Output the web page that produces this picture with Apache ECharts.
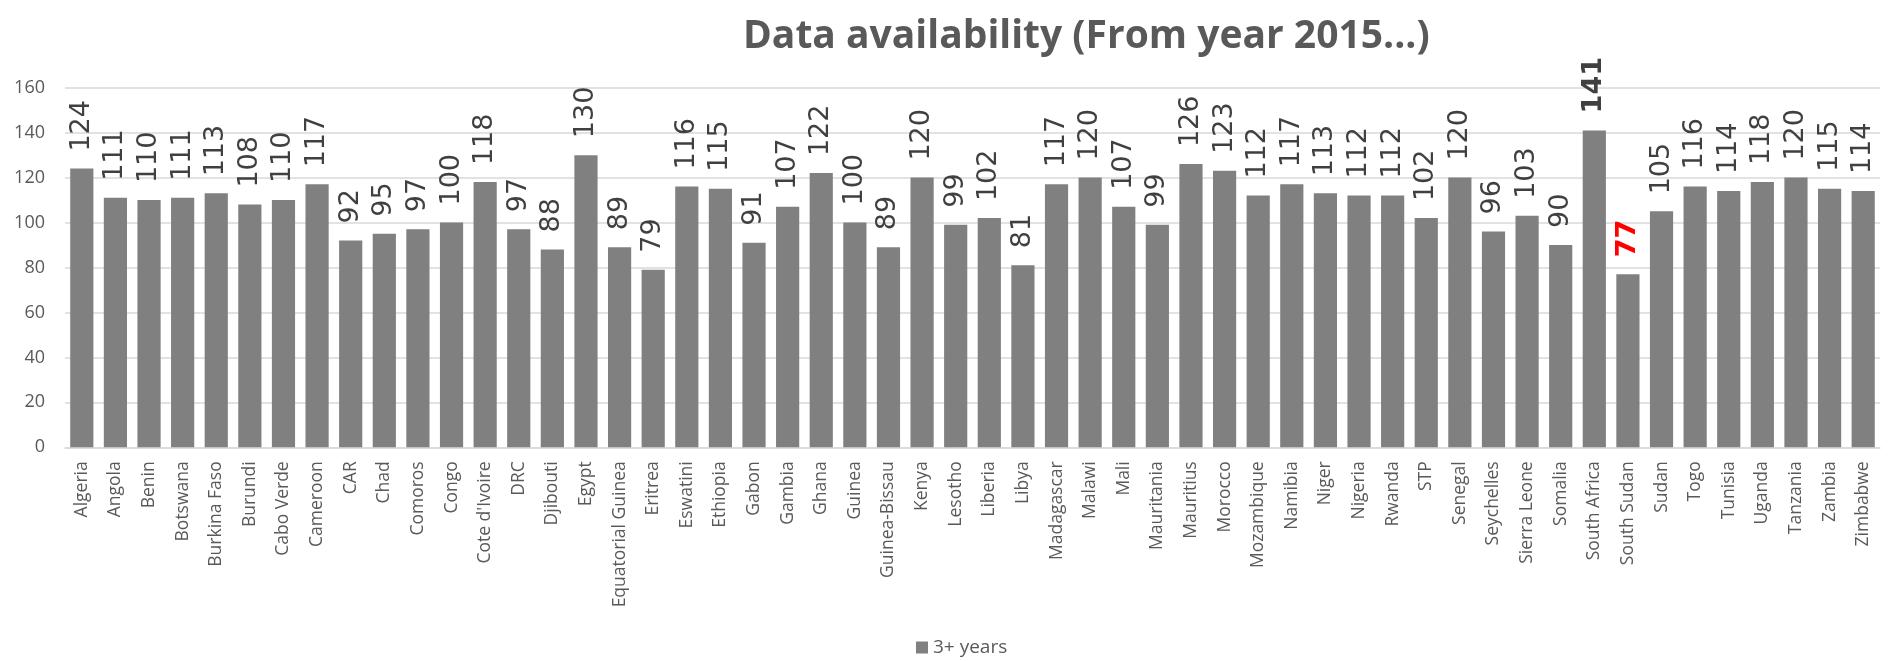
<!DOCTYPE html>
<html>
<head>
<meta charset="utf-8">
<script src="https://cdn.jsdelivr.net/npm/echarts@6/dist/echarts.min.js"></script>
<style>
html,body{margin:0;padding:0;background:#fff;}
#chart{width:1897px;height:661px;}
</style>
</head>
<body>
<div id="chart"></div>
<script>
var titleText = 'Data availability (From year 2015...)';
var seriesName = '3+ years';
var categories = ['Algeria','Angola','Benin','Botswana','Burkina Faso','Burundi','Cabo Verde','Cameroon','CAR','Chad','Comoros','Congo',"Cote d'Ivoire",'DRC','Djibouti','Egypt','Equatorial Guinea','Eritrea','Eswatini','Ethiopia','Gabon','Gambia','Ghana','Guinea','Guinea-Bissau','Kenya','Lesotho','Liberia','Libya','Madagascar','Malawi','Mali','Mauritania','Mauritius','Morocco','Mozambique','Namibia','Niger','Nigeria','Rwanda','STP','Senegal','Seychelles','Sierra Leone','Somalia','South Africa','South Sudan','Sudan','Togo','Tunisia','Uganda','Tanzania','Zambia','Zimbabwe'];
var values = [124,111,110,111,113,108,110,117,92,95,97,100,118,97,88,130,89,79,116,115,91,107,122,100,89,120,99,102,81,117,120,107,99,126,123,112,117,113,112,112,102,120,96,103,90,141,77,105,116,114,118,120,115,114];
var maxCategory = 'South Africa';
var minCategory = 'South Sudan';
var yTicks = [0,20,40,60,80,100,120,140,160];

var chart = echarts.init(document.getElementById('chart'));
var data = values.map(function(v, i){
  var item = {value: v};
  if (categories[i] === maxCategory) item.label = {fontWeight: 'bold', color: '#404040'};
  if (categories[i] === minCategory) item.label = {fontWeight: 'bold', color: '#ff0000'};
  return item;
});
chart.setOption({
  animation: false,
  title: {
    text: titleText,
    left: 738,
    top: 12,
    textStyle: {fontFamily: 'Open Sans', fontWeight: 'bold', fontSize: 39, color: '#595959'}
  },
  legend: {
    data: [seriesName],
    bottom: -1,
    left: 911,
    icon: 'rect',
    itemWidth: 12,
    itemHeight: 12,
    itemGap: 5,
    textStyle: {fontFamily: 'Open Sans', fontSize: 19, color: '#595959'}
  },
  grid: {left: 65, right: 17, top: 87.7, bottom: 213.7, containLabel: false},
  xAxis: {
    type: 'category',
    data: categories,
    axisLine: {lineStyle: {color: '#d9d9d9', width: 1.5}},
    axisTick: {show: false},
    axisLabel: {rotate: 90, interval: 0, margin: 14, fontFamily: 'Open Sans', fontSize: 17.5, color: '#595959'}
  },
  yAxis: {
    type: 'value',
    min: yTicks[0],
    max: yTicks[yTicks.length - 1],
    interval: 20,
    axisLine: {show: false},
    axisTick: {show: false},
    splitLine: {lineStyle: {color: '#d9d9d9', width: 1.5}},
    axisLabel: {margin: 20, fontFamily: 'Open Sans', fontSize: 18, color: '#595959'}
  },
  series: [{
    name: seriesName,
    type: 'bar',
    data: data,
    barCategoryGap: '31%',
    itemStyle: {color: '#808080'},
    label: {
      show: true,
      position: 'top',
      rotate: 90,
      align: 'left',
      verticalAlign: 'middle',
      distance: 17,
      fontFamily: 'DejaVu Sans',
      fontSize: 27,
      color: '#404040'
    }
  }]
});
</script>
</body>
</html>
